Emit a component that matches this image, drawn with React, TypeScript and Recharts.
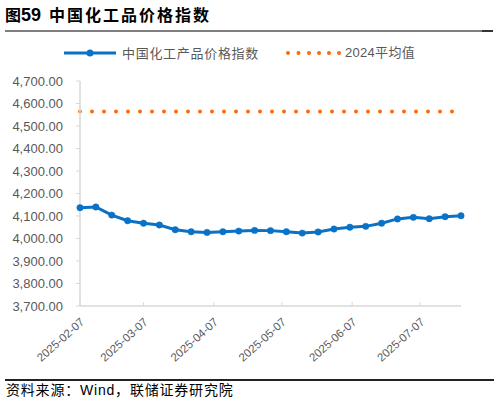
import { LineChart, Line, XAxis, YAxis, ReferenceLine } from "recharts";

// 周度数据（2025-02-07 起）
const dates = [
  "2025-02-07", "2025-02-14", "2025-02-21", "2025-02-28", "2025-03-07",
  "2025-03-14", "2025-03-21", "2025-03-28", "2025-04-04", "2025-04-11",
  "2025-04-18", "2025-04-25", "2025-05-02", "2025-05-09", "2025-05-16",
  "2025-05-23", "2025-05-30", "2025-06-06", "2025-06-13", "2025-06-20",
  "2025-06-27", "2025-07-04", "2025-07-11", "2025-07-18", "2025-07-25",
];
const chemIndex = [
  4137, 4140, 4104, 4079, 4068, 4060, 4039, 4030, 4027, 4030,
  4033, 4036, 4035, 4030, 4024, 4029, 4042, 4050, 4054, 4068,
  4087, 4094, 4088, 4097, 4101,
];
const avg2024 = 4564;
const yTicks = [3700, 3800, 3900, 4000, 4100, 4200, 4300, 4400, 4500, 4600, 4700];
const xTickLabels = ["2025-02-07", "2025-03-07", "2025-04-07", "2025-05-07", "2025-06-07", "2025-07-07"];

const BLUE = "#0A72C6";
const ORANGE = "#FF6A0D";
const GRAY_TEXT = "#595959";
const AXIS = "#D9D9D9";
const NUM_FONT = '"Liberation Sans", Arial, sans-serif';
const CJK_FONT = '"Noto Sans CJK SC", sans-serif';
const MIXED_FONT = '"Liberation Sans", "Noto Sans CJK SC", sans-serif';

const data = dates.map((d, i) => ({ t: Date.parse(d), value: chemIndex[i] }));
const xTicks = xTickLabels.map((d) => Date.parse(d));

const fmtY = (v: number) =>
  v.toLocaleString("en-US", { minimumFractionDigits: 2, maximumFractionDigits: 2 });

function DateTick(props: any) {
  const { x, y, payload } = props;
  const label = new Date(payload.value).toISOString().slice(0, 10);
  return (
    <g>
      <line x1={x} x2={x} y1={y} y2={y - 4} stroke={AXIS} strokeWidth={1} />
      <text
        x={0}
        y={0}
        transform={`translate(${x + 5},${y + 17}) rotate(-42)`}
        textAnchor="end"
        fontSize={11.5}
        fontFamily={NUM_FONT}
        fill={GRAY_TEXT}
      >
        {label}
      </text>
    </g>
  );
}

export default function App() {
  return (
    <div
      style={{
        position: "absolute",
        left: 0,
        top: 0,
        width: 499,
        height: 404,
        background: "#fff",
        overflow: "hidden",
      }}
    >
      {/* 标题 */}
      <div
        style={{
          position: "absolute",
          left: 5,
          top: 5,
          lineHeight: "18px",
          fontWeight: "bold",
          color: "#000",
          whiteSpace: "nowrap",
        }}
      >
        <span style={{ fontFamily: CJK_FONT, fontSize: 16 }}>图</span>
        <span style={{ fontFamily: NUM_FONT, fontSize: 18 }}>59</span>
      </div>
      <div
        style={{
          position: "absolute",
          left: 49,
          top: 5,
          lineHeight: "18px",
          fontWeight: "bold",
          fontFamily: CJK_FONT,
          fontSize: 16,
          letterSpacing: 2,
          color: "#000",
          whiteSpace: "nowrap",
        }}
      >
        中国化工品价格指数
      </div>
      <div style={{ position: "absolute", left: 5, top: 30, width: 477, height: 1.5, background: "#7F7F7F" }} />
      <div style={{ position: "absolute", left: 482, top: 30, width: 11, height: 1.5, background: "#333" }} />

      {/* 图例 */}
      <svg style={{ position: "absolute", left: 0, top: 40 }} width={499} height={26}>
        <line x1={64} x2={116} y1={13} y2={13} stroke={BLUE} strokeWidth={3} />
        <circle cx={90} cy={13} r={3.5} fill={BLUE} />
        {[288, 298.5, 309, 319, 329, 339].map((cx) => (
          <circle key={cx} cx={cx} cy={13} r={2} fill={ORANGE} />
        ))}
      </svg>
      <div
        style={{
          position: "absolute",
          left: 122,
          top: 46,
          fontFamily: CJK_FONT,
          fontSize: 13,
          letterSpacing: 0.7,
          lineHeight: "14px",
          color: GRAY_TEXT,
          whiteSpace: "nowrap",
        }}
      >
        中国化工产品价格指数
      </div>
      <div
        style={{
          position: "absolute",
          left: 345,
          top: 46,
          fontFamily: MIXED_FONT,
          fontSize: 13,
          letterSpacing: 0.3,
          lineHeight: "14px",
          color: GRAY_TEXT,
          whiteSpace: "nowrap",
        }}
      >
        2024平均值
      </div>

      {/* 图表 */}
      <div style={{ position: "absolute", left: 0, top: 0 }}>
        <LineChart
          width={499}
          height={404}
          data={data}
          margin={{ top: 81, right: 38, bottom: 68, left: 0 }}
        >
          <XAxis
            dataKey="t"
            type="number"
            domain={["dataMin", "dataMax"]}
            ticks={xTicks}
            interval={0}
            height={30}
            tickLine={false}
            tickSize={0}
            tickMargin={0}
            axisLine={{ stroke: AXIS, strokeWidth: 1.5 }}
            tick={<DateTick />}
          />
          <YAxis
            domain={[3700, 4700]}
            ticks={yTicks}
            interval={0}
            width={80}
            tickSize={4}
            tickMargin={13}
            tickLine={{ stroke: AXIS }}
            axisLine={{ stroke: AXIS, strokeWidth: 1.5 }}
            tickFormatter={fmtY}
            tick={{ fontSize: 13, fontFamily: NUM_FONT, fill: GRAY_TEXT }}
          />
          <ReferenceLine
            y={avg2024}
            stroke={ORANGE}
            strokeWidth={4}
            strokeDasharray="0 12"
            strokeLinecap="round"
            ifOverflow="visible"
          />
          <Line
            type="linear"
            dataKey="value"
            stroke={BLUE}
            strokeWidth={3}
            dot={{ r: 3.2, fill: BLUE, stroke: BLUE, strokeWidth: 0.5 }}
            activeDot={false}
            isAnimationActive={false}
          />
        </LineChart>
      </div>

      {/* 资料来源 */}
      <div style={{ position: "absolute", left: 5, top: 379, width: 489, height: 1.5, background: "#222" }} />
      <div
        style={{
          position: "absolute",
          left: 6,
          top: 383,
          fontFamily: MIXED_FONT,
          fontSize: 14,
          letterSpacing: 0.8,
          lineHeight: "15px",
          color: "#000",
          whiteSpace: "nowrap",
        }}
      >
        资料来源：Wind，联储证券研究院
      </div>
    </div>
  );
}
